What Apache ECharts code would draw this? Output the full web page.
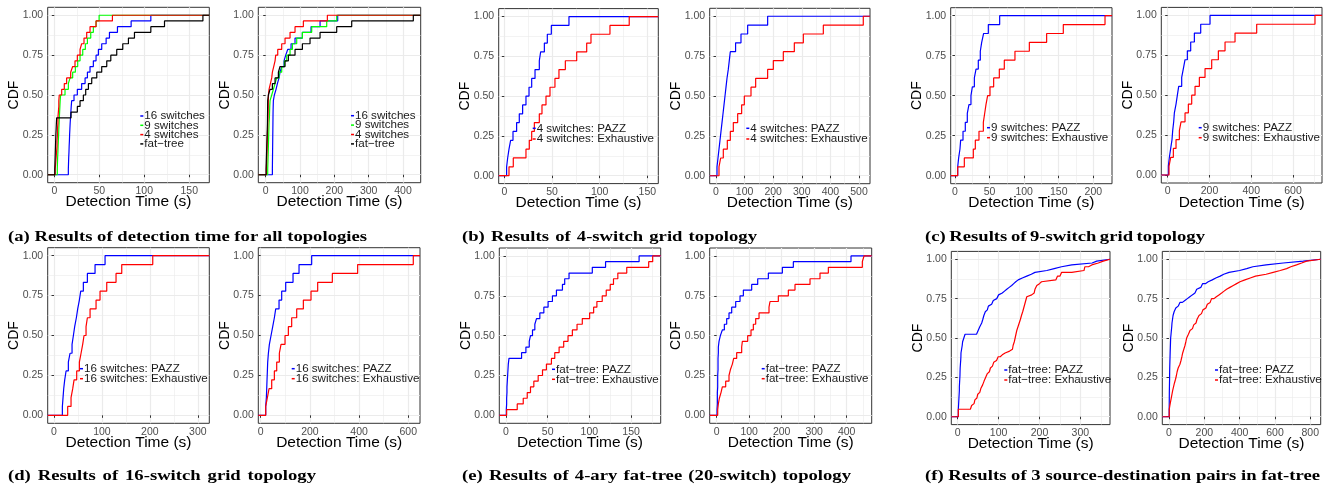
<!DOCTYPE html>
<html>
<head>
<meta charset="utf-8">
<script src="https://cdn.jsdelivr.net/npm/echarts@6/dist/echarts.min.js"></script>
<style>
  html, body { margin: 0; padding: 0; background: #fff; }
  #chart { width: 1325px; height: 487px; }
</style>
</head>
<body>
<div id="chart"></div>
<script>
// detection times (s), one sample per step of each CDF
const a1Switch16 = [15.6,15.8,16,16.3,16.5,16.8,17,17.3,17.6,18,18.4,18.8,19.3,21.9,25.6,30.4,34.2,36.8,39.7,43.4,46.4,49,52.7,57.6,61.3,70.2,85.4,107.3]
const a1Switch9 = [3.3,3.5,3.7,4,4.2,4.5,4.8,5,5.3,5.6,5.9,6.2,6.5,7,11.9,15.6,17.5,20.4,23.4,26,28.6,31.6,34.5,36.8,40.5,43.4,46.4,49.8]
const a1Switch4 = [1,1.5,2,2.5,3,3,3.5,3.5,4,4,4.5,5,5,5.5,8.2,11.1,13.7,18.2,20.4,23,25.6,28.6,30.4,33,36,39.7,46.4,64.6]
const a1FatTree = [0.5,0.7,0.9,1.1,1.3,1.5,1.7,2,2.3,2.6,18.6,25.6,28.6,32.3,34.9,37.9,41.6,47.2,52.7,58.3,62.8,69.4,76.1,82.4,89.1,107.3,122.5,165.2]

const a2Switch16 = [19.4,19.6,19.8,20,20.2,20.4,20.6,20.8,21,21.2,21.4,21.8,22.3,25.2,30.1,34,38.8,41.7,46.6,53.4,58.3,64.1,73.8,85.4,106.8,132,158.3,209.7]
const a2Switch9 = [5.8,6.3,6.8,7.3,7.8,8.3,8.7,9.2,9.7,10.7,11.2,11.7,12.6,17.5,22.3,27.2,32,38.8,46.6,54.4,61.2,70.9,77.7,90.3,106.8,134,177.7,206.8]
const a2Switch4 = [2,2.5,3,3.5,4,4.5,5,5.5,6,6.5,7,7.3,7.6,8,9.7,13.6,17.5,19.4,23.3,27.2,29.1,35,46.6,56.3,70.9,85.4,109.7,179.6]
const a2FatTree = [1,1.5,2,2.5,3,3.5,4,4.5,5,5.2,5.4,5.6,5.8,7.8,12.6,19.4,27.2,36.9,41.7,56.3,66,85.4,106.8,129.1,158.3,206.8,250.5,430]

const b1Pazz = [2.4,3.5,4.9,6.6,9.1,12.9,15.7,19.2,22.7,25.9,28.7,32.2,36.7,38.1,42,45.1,49.3,67.8]
const b1Exhaustive = [4.9,9.4,22.7,26.2,28.7,31.5,36.7,39.5,43.7,47.9,53.1,57.3,64,75.9,86.4,90.9,110.8,131]
const b2Pazz = [3.5,7,10.5,14,17.5,21,24.5,28,31.5,35,38.5,43,46.5,50,68.5,87.4,110.7,180.6]
const b2Exhaustive = [10.5,16.3,25.6,39.6,50.1,60.6,75.8,89.7,99.1,122.4,138.7,180.6,200.5,235.4,273.9,305.4,375.3,515]

const c1Pazz = [3.9,5.3,7.2,8.2,11.6,14.9,17.8,20.2,23.1,25.1,28,30.4,33.7,36.6,38.6,41.4,48.2,64.6]
const c1Exhaustive = [3.9,13.5,26.5,29.4,34.7,41,42.9,44.8,47.2,50.6,55.9,64.1,71.3,86.7,107.5,132.5,156.6,216.9]
const c2Pazz = [3.2,8,14.4,20.7,23.9,28.7,31.9,39.9,46.3,52.7,67,75,83,94.1,110.1,127.7,158,202.6]
const c2Exhaustive = [6.4,14.4,27.1,39.9,55.9,63.8,83,98.9,114.9,130.9,151.6,178.7,210.6,242.5,274.5,322.3,426,705]

const d1Pazz = [17.4,18.8,20.2,22.3,25.1,29.9,33.4,37.6,40.4,43.1,46.6,49.4,52.9,55.7,61.2,69.6,85.6,106.5]
const d1Exhaustive = [28.5,35.5,39,41.8,47.3,52.9,56.4,59.8,62.6,66.8,69.6,75.2,87.7,96,110,129.4,141.3,206]
const d2Pazz = [20.3,23,24.4,25.7,27.1,28.4,31.2,35.2,42,48.8,55.5,61,74.5,85.3,101.6,131.4,155.8,207.2]
const d2Exhaustive = [20.3,27.1,33.9,44.7,55.5,65,75.8,82.6,98.9,112.4,125.9,146.3,173.4,204.5,231.6,291.2,394.1,620.3]

const e1Pazz = [0.4,0.8,0.8,1.2,1.2,1.6,2,2.4,2.8,3.6,18.7,23.9,27.9,29.4,31.8,34.6,36.6,40.6,45.4,50.5,55.7,60.5,67.7,70.4,75.6,103.5,119.4,159.6]
const e1Exhaustive = [0.8,13.5,20.7,25.5,29.4,33.4,38.6,43.8,48.5,54.5,58.5,63.7,69.2,74.4,79.6,85.2,91.5,100.3,105.1,109,115.4,120.2,125,128.9,134.1,144.8,171.1,175.9]
const e2Pazz = [1,2.1,2.1,2.1,3.1,3.1,3.1,4.1,4.1,4.1,5.1,5.1,7.2,11.3,17.4,23.6,30.8,37.9,46.2,58.5,71.8,82.1,107.7,126.2,159,202.1,235.9,413.3]
const e2Exhaustive = [3.1,5.1,8.2,13.3,17.4,27.7,37.9,42.1,48.2,52.3,61.5,76.9,79,95.4,105.6,112.8,120,130.3,161,164.1,189.7,220.5,241,287.2,317.9,343.6,448.2,453.3]

const f1Pazz = [1.5,1.5,1.5,1.5,2,2,2.5,2.5,3,3,3,3.5,3.5,4,4,4,4.5,4.5,5,5,5,5.5,5.5,5.7,5.7,6,6.3,6.6,7,7.3,7.6,7.8,8,8,8.7,9.5,10.3,11,11.8,12,13.5,15,16.5,18,46,50,52,54,56,58.7,60,61.5,63,64,65,67.5,70,72.5,75,79,83,87,91,95.5,100,104.5,109,114.5,120,126,132,137,142,148,158,169,180,189,218,236,254,279,329,340]
const f1Exhaustive = [1.5,1.5,1.5,1.5,31,34,38,40,42,44.5,47,49,51.5,54,56.5,58.5,61,63,64.5,66.5,68.5,70.5,72.5,75,77.5,80,82.5,85,88,91,95,99,104,109,116,127,134,135.5,137,138.5,140,140.5,141.5,142.5,143.5,144.5,146,147.5,149,150.5,152,153.5,155,156,157.5,159,160,161.5,163,164,165,166.5,167.5,169,171,181,187,189,191,193.5,196,200,205,240,244,250,254,279,309,311,320,328,344,356]
const f2Pazz = [1,1,1,1,1.2,1.3,1.4,1.5,1.6,1.7,1.8,1.9,2,2.1,2.3,2.5,2.7,2.9,3.1,3.3,3.4,3.5,3.6,3.7,3.8,4.1,4.4,4.7,5,5.3,5.6,6,6.3,6.6,7,7.3,7.7,8,8.3,8.7,9,9.4,10.5,11.5,12.5,13.5,14.5,15.5,16.3,17,18.5,20,21.5,23,24.5,29,34,38.5,43,52,62,76,90,104,118,132,147,157,166,180,190,206,222,245,265,290,310,340,400,440,475,550,647,760]
const f2Exhaustive = [1.5,1.5,1.5,1.5,3,5,7,9,11,13,15,17,19,21,23.5,26,28.5,31,34,37,40,42,44,46,47.5,52,57,62,65,68,71,73,75,77.5,81,84,87,90.5,93,95.5,98,100,105,110,115,119,126,133,140,147,153,159,165,170,176,184,192,200,209,217,225,233,241,255,268,283,298,312,326,345,364,383,402,430,460,490,550,590,630,666,690,722,751,779]

// axis limits and tick labels
const xRanges = {
  a1: [-7.35, 172.3], a2: [-21.6, 451.5], b1: [-5.9, 161.5], b2: [-22, 538.5],
  c1: [-6.2, 227], c2: [-30.6, 738.6], d1: [-13.2, 324], d2: [-9.8, 647.6],
  e1: [-8, 185.5], e2: [-21.5, 477], f1: [-15.7, 372.6], f2: [-37.9, 859]
}
const xTicks = {
  a1: [0, 50, 100, 150], a2: [0, 100, 200, 300, 400], b1: [0, 50, 100, 150], b2: [0, 100, 200, 300, 400, 500],
  c1: [0, 50, 100, 150, 200], c2: [0, 200, 400, 600], d1: [0, 100, 200, 300], d2: [0, 200, 400, 600],
  e1: [0, 50, 100, 150], e2: [0, 100, 200, 300, 400], f1: [0, 100, 200, 300], f2: [0, 200, 400, 600, 800]
}
const xMinor = {
  a1: [25, 75, 125], a2: [50, 150, 250, 350], b1: [25, 75, 125], b2: [50, 150, 250, 350, 450],
  c1: [25, 75, 125, 175], c2: [100, 300, 500, 700], d1: [50, 150, 250], d2: [100, 300, 500],
  e1: [25, 75, 125, 175], e2: [50, 150, 250, 350, 450], f1: [50, 150, 250, 350], f2: [100, 300, 500, 700]
}
const yTicks = [0, 0.25, 0.5, 0.75, 1]
const yMinor = [0.125, 0.375, 0.625, 0.875]
const yRange = [-0.05, 1.05]

const captions = [
  '(a) Results of detection time for all topologies',
  '(b) Results of 4-switch grid topology',
  '(c) Results of 9-switch grid topology',
  '(d) Results of 16-switch grid topology',
  '(e) Results of 4-ary fat-tree (20-switch) topology',
  '(f) Results of 3 source-destination pairs in fat-tree'
]

const BLUE = '#0000ff', RED = '#ff0000', GREEN = '#00ff00', BLACK = '#000000'
const SANS = '"Liberation Sans", Arial, sans-serif'
const LEGEND_ROW = 12  // height echarts gives one legend row at this font size

// grid: [left, top, width, height], legend: [text start, centre of first row, row spacing]
const panels = [
  {key: 'a1', grid: [47.7, 7.3, 161.6, 175.4], legend: [144.3, 116, 9.3],
    series: [['16 switches', BLUE, a1Switch16], ['9 switches', GREEN, a1Switch9], ['4 switches', RED, a1Switch4], ['fat\u2212tree', BLACK, a1FatTree]]},
  {key: 'a2', grid: [258.3, 7.3, 162.4, 175.4], legend: [355, 115.7, 9.4],
    series: [['16 switches', BLUE, a2Switch16], ['9 switches', GREEN, a2Switch9], ['4 switches', RED, a2Switch4], ['fat\u2212tree', BLACK, a2FatTree]]},
  {key: 'b1', grid: [498.7, 8.6, 159.6, 175], legend: [536.7, 128.3, 10.7],
    series: [['4 switches: PAZZ', BLUE, b1Pazz], ['4 switches: Exhaustive', RED, b1Exhaustive]]},
  {key: 'b2', grid: [709.7, 8.3, 160.3, 175.4], legend: [750.3, 128.3, 10.7],
    series: [['4 switches: PAZZ', BLUE, b2Pazz], ['4 switches: Exhaustive', RED, b2Exhaustive]]},
  {key: 'c1', grid: [950.7, 7.7, 161.3, 176], legend: [991, 127.7, 10],
    series: [['9 switches: PAZZ', BLUE, c1Pazz], ['9 switches: Exhaustive', RED, c1Exhaustive]]},
  {key: 'c2', grid: [1161.3, 7.4, 160.7, 175.6], legend: [1202.7, 127.7, 10],
    series: [['9 switches: PAZZ', BLUE, c2Pazz], ['9 switches: Exhaustive', RED, c2Exhaustive]]},
  {key: 'd1', grid: [47.7, 247.7, 161.6, 175.6], legend: [84, 368.7, 10],
    series: [['16 switches: PAZZ', BLUE, d1Pazz], ['16 switches: Exhaustive', RED, d1Exhaustive]]},
  {key: 'd2', grid: [258.3, 247.7, 161.7, 175.6], legend: [295.7, 368.7, 10],
    series: [['16 switches: PAZZ', BLUE, d2Pazz], ['16 switches: Exhaustive', RED, d2Exhaustive]]},
  {key: 'e1', grid: [499.3, 248, 161.4, 175.3], legend: [556, 369.3, 10],
    series: [['fat\u2212tree: PAZZ', BLUE, e1Pazz], ['fat\u2212tree: Exhaustive', RED, e1Exhaustive]]},
  {key: 'e2', grid: [709.7, 248, 162, 175.3], legend: [765.7, 368.7, 10],
    series: [['fat\u2212tree: PAZZ', BLUE, e2Pazz], ['fat\u2212tree: Exhaustive', RED, e2Exhaustive]]},
  {key: 'f1', grid: [951.3, 251.4, 158.7, 173.2], legend: [1008.3, 370, 10],
    series: [['fat\u2212tree: PAZZ', BLUE, f1Pazz], ['fat\u2212tree: Exhaustive', RED, f1Exhaustive]]},
  {key: 'f2', grid: [1162.3, 251.4, 158.4, 173.2], legend: [1219, 370, 10],
    series: [['fat\u2212tree: PAZZ', BLUE, f2Pazz], ['fat\u2212tree: Exhaustive', RED, f2Exhaustive]]}
]

// empirical CDF, padded to the panel edges like stat_ecdf
function ecdf (values, range) {
  const s = values.slice().sort((a, b) => a - b)
  const pts = [[range[0], 0]]
  s.forEach((v, i) => pts.push([v, (i + 1) / s.length]))
  pts.push([range[1], 1])
  return pts
}

// the captions in the paper are a little wider than the font, and the lower row is justified
const capFont = 'bold 15px "Liberation Serif", "Times New Roman", serif'
const capCtx = document.createElement('canvas').getContext('2d')
capCtx.font = capFont
const capScale = 359 / capCtx.measureText(captions[0]).width

function captionWords (text, x0, x1, y) {
  const words = text.split(' ')
  const widths = words.map(w => capCtx.measureText(w).width * capScale)
  const gap = (x1 - x0 - widths.reduce((a, b) => a + b, 0)) / (words.length - 1)
  let x = x0
  return words.map((w, i) => {
    const el = {type: 'text', x: x, y: y, scaleX: capScale, silent: true,
      style: {text: w, font: capFont, fill: '#000', verticalAlign: 'middle'}}
    x += widths[i] + gap
    return el
  })
}

const grid = [], xAxis = [], yAxis = [], series = [], legend = []
const majorLine = {show: true, lineStyle: {color: '#ebebeb', width: 1.2}}
const minorLine = {show: true, lineStyle: {color: '#ebebeb', width: 0.6}}

panels.forEach((p, i) => {
  const range = xRanges[p.key]
  grid.push({left: p.grid[0], top: p.grid[1], width: p.grid[2], height: p.grid[3],
    show: true, borderColor: '#333333', borderWidth: 1, backgroundColor: '#fff'})

  xAxis.push({
    type: 'value', gridIndex: i, min: range[0], max: range[1], position: 'bottom',
    axisLine: {show: false},
    axisTick: {show: true, length: 2.5, lineStyle: {color: '#333333'}, customValues: xTicks[p.key]},
    axisLabel: {customValues: xTicks[p.key], color: '#4d4d4d', fontSize: 10.5, margin: 3, fontFamily: SANS},
    splitLine: majorLine,
    name: 'Detection Time (s)', nameLocation: 'middle', nameGap: 11.5, nameMoveOverlap: false,
    nameTextStyle: {fontSize: 15.5, color: '#000', fontFamily: SANS}
  })
  xAxis.push({
    type: 'value', gridIndex: i, min: range[0], max: range[1], position: 'top',
    axisLine: {show: false}, axisTick: {show: false, customValues: xMinor[p.key]},
    axisLabel: {show: false}, splitLine: minorLine
  })
  yAxis.push({
    type: 'value', gridIndex: i, min: yRange[0], max: yRange[1], position: 'left',
    axisLine: {show: false},
    axisTick: {show: true, length: 2.5, lineStyle: {color: '#333333'}, customValues: yTicks},
    axisLabel: {customValues: yTicks, color: '#4d4d4d', fontSize: 10.5, margin: 4.5, fontFamily: SANS,
      formatter: v => v.toFixed(2)},
    splitLine: majorLine,
    name: 'CDF', nameLocation: 'middle', nameGap: 26.5, nameMoveOverlap: false,
    nameTextStyle: {fontSize: 14, color: '#000', fontFamily: SANS}
  })
  yAxis.push({
    type: 'value', gridIndex: i, min: yRange[0], max: yRange[1], position: 'right',
    axisLine: {show: false}, axisTick: {show: false, customValues: yMinor},
    axisLabel: {show: false}, splitLine: minorLine
  })

  p.series.forEach(s => {
    series.push({
      name: s[0], type: 'line', step: 'end', xAxisIndex: 2 * i, yAxisIndex: 2 * i,
      data: ecdf(s[2], range), symbol: 'none', silent: true,
      lineStyle: {color: s[1], width: 1.2}, itemStyle: {color: s[1]}
    })
  })

  // key dash sits right against its text, rows packed as tight as in the ggplot legend
  legend.push({
    data: p.series.map(s => s[0]), orient: 'vertical',
    left: p.legend[0] - 4, top: p.legend[1] - LEGEND_ROW / 2,
    icon: 'rect', itemWidth: 3, itemHeight: 1.5, itemGap: p.legend[2] - LEGEND_ROW, padding: 0, selectedMode: false,
    textStyle: {fontSize: 11.6, color: '#1a1a1a', fontFamily: SANS, padding: [0, 0, 0, -4]}
  })
})

const graphic = [].concat(
  captionWords(captions[0], 8, 367, 237),
  captionWords(captions[1], 462, 757, 237),
  captionWords(captions[2], 925, 1205, 237),
  captionWords(captions[3], 8, 316, 476.5),
  captionWords(captions[4], 462, 851, 476.5),
  captionWords(captions[5], 925, 1320, 476.5)
)

const myChart = echarts.init(document.getElementById('chart'))
myChart.setOption({
  animation: false,
  backgroundColor: '#fff',
  grid, xAxis, yAxis, series, legend, graphic
})
</script>
</body>
</html>
